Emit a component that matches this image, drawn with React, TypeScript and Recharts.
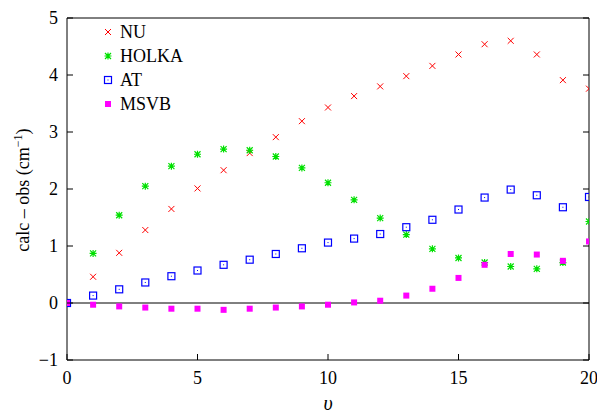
import React from 'react';
import {
  ScatterChart, Scatter, XAxis, YAxis, ReferenceLine,
} from 'recharts';

// vibrational quantum number
const levels = [0, 1, 2, 3, 4, 5, 6, 7, 8, 9, 10, 11, 12, 13, 14, 15, 16, 17, 18, 19, 20];

// calc - obs residuals (cm^-1)
const nuValues = [0, 0.46, 0.88, 1.28, 1.65, 2.01, 2.33, 2.63, 2.91, 3.19, 3.43, 3.63, 3.80, 3.98, 4.16, 4.36, 4.54, 4.60, 4.36, 3.91, 3.76];
const holkaValues = [0, 0.87, 1.54, 2.05, 2.40, 2.61, 2.70, 2.68, 2.57, 2.37, 2.11, 1.81, 1.49, 1.20, 0.95, 0.79, 0.71, 0.64, 0.60, 0.71, 1.43];
const atValues = [0, 0.13, 0.24, 0.36, 0.47, 0.57, 0.67, 0.76, 0.86, 0.96, 1.06, 1.13, 1.21, 1.33, 1.46, 1.64, 1.85, 1.99, 1.89, 1.68, 1.86];
const msvbValues = [0, -0.03, -0.06, -0.08, -0.10, -0.10, -0.12, -0.10, -0.08, -0.06, -0.03, 0.01, 0.04, 0.13, 0.25, 0.44, 0.67, 0.86, 0.85, 0.74, 1.08];

const xTicks = [0, 5, 10, 15, 20];
const yTicks = [-1, 0, 1, 2, 3, 4, 5];

const toPoints = (vals: number[]) => levels.map((v, i) => ({ v, d: vals[i] }));

const FONT = '"Liberation Serif", "DejaVu Serif", serif';
const textStyle = { fontFamily: FONT, fontSize: 18 };

// marker shapes
const Cross = ({ cx, cy, fill }: any) => (
  <path d={`M${cx - 3},${cy - 3}L${cx + 3},${cy + 3}M${cx - 3},${cy + 3}L${cx + 3},${cy - 3}`} stroke={fill} strokeWidth={1} />
);
const Star = ({ cx, cy, fill }: any) => (
  <path
    d={`M${cx - 3},${cy - 3}L${cx + 3},${cy + 3}M${cx - 3},${cy + 3}L${cx + 3},${cy - 3}M${cx - 3.5},${cy}L${cx + 3.5},${cy}M${cx},${cy - 3.5}L${cx},${cy + 3.5}`}
    stroke={fill} strokeWidth={1.2}
  />
);
const OpenSquare = ({ cx, cy, fill }: any) => (
  <g>
    <rect x={cx - 3.5} y={cy - 3.5} width={7} height={7} fill="none" stroke={fill} strokeWidth={1.2} />
    <rect x={cx - 0.5} y={cy - 0.5} width={1} height={1} fill={fill} />
  </g>
);
const FilledSquare = ({ cx, cy, fill }: any) => (
  <rect x={cx - 3} y={cy - 3} width={6} height={6} fill={fill} />
);

const series = [
  { name: 'NU', color: '#ff0000', data: toPoints(nuValues), shape: Cross },
  { name: 'HOLKA', color: '#00e000', data: toPoints(holkaValues), shape: Star },
  { name: 'AT', color: '#0000ff', data: toPoints(atValues), shape: OpenSquare },
  { name: 'MSVB', color: '#ff00ff', data: toPoints(msvbValues), shape: FilledSquare },
];

// inward ticks on all four sides
const BottomTick = ({ x, y, payload }: any) => (
  <g>
    <line x1={x} y1={y} x2={x} y2={y - 6} stroke="#000" />
    <text x={x} y={y + 24} textAnchor="middle" style={textStyle} fill="#000">{payload.value}</text>
  </g>
);
const TopTick = ({ x, y }: any) => <line x1={x} y1={y} x2={x} y2={y + 6} stroke="#000" />;
const LeftTick = ({ x, y, payload }: any) => (
  <g>
    <line x1={x} y1={y} x2={x + 6} y2={y} stroke="#000" />
    <text x={x - 9} y={y + 6} textAnchor="end" style={textStyle} fill="#000">
      {payload.value < 0 ? '\u2212' + Math.abs(payload.value) : payload.value}
    </text>
  </g>
);
const RightTick = ({ x, y }: any) => <line x1={x} y1={y} x2={x - 6} y2={y} stroke="#000" />;

const LegendBox = () => (
  <div style={{ position: 'absolute', left: 100, top: 20, fontFamily: FONT, fontSize: 18, color: '#000' }}>
    {series.map((s) => {
      const Shape = s.shape;
      return (
        <div key={s.name} style={{ display: 'flex', alignItems: 'center', height: 24 }}>
          <svg width={16} height={16} style={{ marginRight: 4 }}>
            <Shape cx={8} cy={8} fill={s.color} />
          </svg>
          <span>{s.name}</span>
        </div>
      );
    })}
  </div>
);

export default function App() {
  return (
    <div style={{ position: 'absolute', left: 0, top: 0, width: 597, height: 413, background: '#fff' }}>
      <ScatterChart width={597} height={413} margin={{ top: 0, right: 0, left: 0, bottom: 0 }}>
        <XAxis
          xAxisId="b" type="number" dataKey="v" domain={[0, 20]} ticks={xTicks}
          height={53} tickSize={0} tickMargin={0} tickLine={false} allowDataOverflow
          axisLine={{ stroke: '#000' }} tick={<BottomTick />}
        />
        <XAxis
          xAxisId="t" orientation="top" type="number" domain={[0, 20]} ticks={xTicks}
          height={18} tickSize={0} tickMargin={0} tickLine={false} allowDataOverflow
          axisLine={{ stroke: '#000' }} tick={<TopTick />}
        />
        <YAxis
          yAxisId="l" type="number" dataKey="d" domain={[-1, 5]} ticks={yTicks}
          width={67} tickSize={0} tickMargin={0} tickLine={false} allowDataOverflow
          axisLine={{ stroke: '#000' }} tick={<LeftTick />}
        />
        <YAxis
          yAxisId="r" orientation="right" type="number" domain={[-1, 5]} ticks={yTicks}
          width={8} tickSize={0} tickMargin={0} tickLine={false} allowDataOverflow
          axisLine={{ stroke: '#000' }} tick={<RightTick />}
        />
        <ReferenceLine xAxisId="b" yAxisId="l" y={0} stroke="#000" />
        {series.map((s) => (
          <Scatter
            key={s.name}
            xAxisId="b"
            yAxisId="l"
            name={s.name}
            data={s.data}
            fill={s.color}
            shape={s.shape}
            isAnimationActive={false}
          />
        ))}
      </ScatterChart>
      <LegendBox />
      <div
        style={{
          position: 'absolute', left: 22, top: 190, transform: 'translate(-50%, -50%) rotate(-90deg)',
          whiteSpace: 'nowrap', fontFamily: FONT, fontSize: 18,
        }}
      >
        calc – obs (cm<sup style={{ fontSize: 12 }}>−1</sup>)
      </div>
      <div
        style={{
          position: 'absolute', left: 328, top: 403, transform: 'translate(-50%, -50%)',
          fontFamily: FONT, fontSize: 20, fontStyle: 'italic',
        }}
      >
        υ
      </div>
    </div>
  );
}
